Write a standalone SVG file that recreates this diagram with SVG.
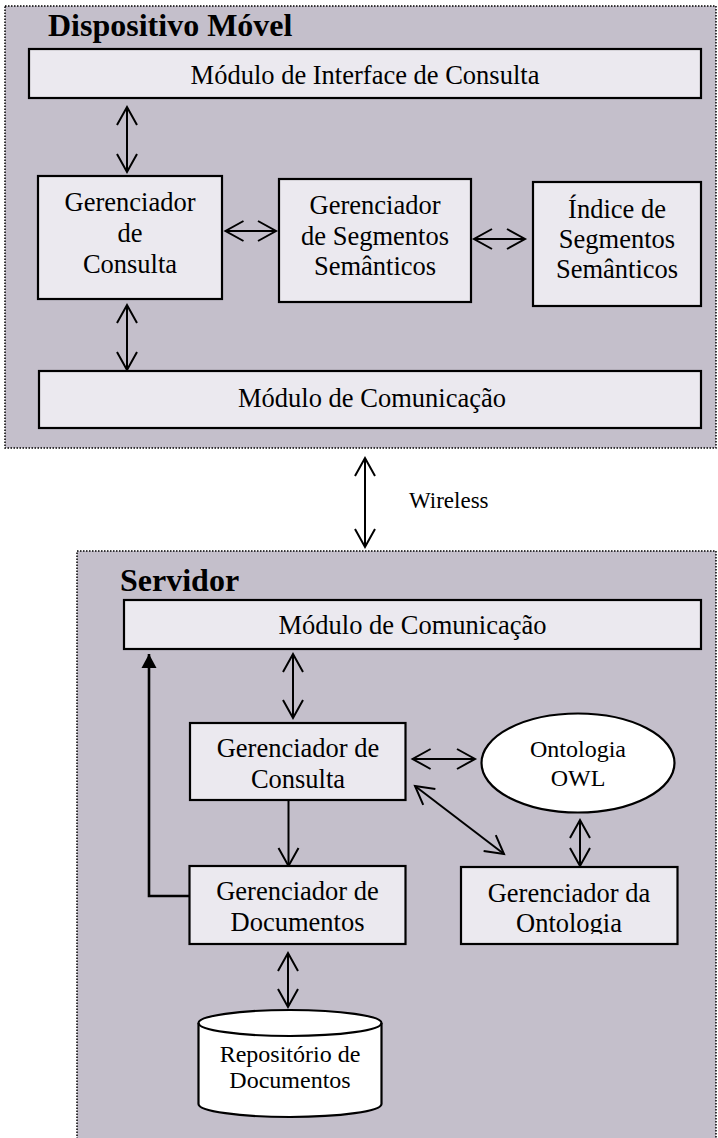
<svg xmlns="http://www.w3.org/2000/svg" width="718" height="1138" viewBox="0 0 718 1138">
<style>
.cont{fill:#c4bfcb;stroke:#000;stroke-width:1.5;stroke-dasharray:1.5 1.5}
.box{fill:#ebe9ef;stroke:#000;stroke-width:2.2}
.white{fill:#fff;stroke:#000;stroke-width:2.2}
.t{font-family:"Liberation Serif","Times New Roman",serif;font-size:26.5px;fill:#000;text-anchor:middle}
.s{font-size:24px}
.title{font-family:"Liberation Serif","Times New Roman",serif;font-size:32px;font-weight:bold;fill:#000}
.c{fill:none;stroke:#000;stroke-width:2}
.open{marker-start:url(#oa);marker-end:url(#oa)}
</style>
<defs>
<marker id="oa" markerUnits="userSpaceOnUse" markerWidth="24" markerHeight="24" refX="18" refY="10" orient="auto-start-reverse" overflow="visible">
<path d="M0,0 L18,10 L0,20" fill="none" stroke="#000" stroke-width="2"/>
</marker>
<marker id="fa" markerUnits="userSpaceOnUse" markerWidth="20" markerHeight="20" refX="14" refY="7.5" orient="auto" overflow="visible">
<path d="M0,0 L14,7.5 L0,15 Z" fill="#000"/>
</marker>
<clipPath id="clipGO"><rect x="455" y="860" width="230" height="74"/></clipPath>
</defs>

<g id="dispositivo-movel">
<rect class="cont" x="5" y="6" width="711" height="442"/>
<text class="title" x="48" y="36">Dispositivo Móvel</text>
</g>
<g id="servidor">
<rect class="cont" x="77" y="551" width="639" height="600"/>
<text class="title" x="120" y="591">Servidor</text>
</g>

<g id="connectors">
<line class="c open" x1="127" y1="107" x2="127" y2="172"/>
<line class="c open" x1="127" y1="305" x2="127" y2="370"/>
<line class="c open" x1="225.5" y1="231" x2="276" y2="231"/>
<line class="c open" x1="474" y1="239" x2="525" y2="239"/>
<line class="c open" x1="365" y1="458" x2="365" y2="547"/>
<line class="c open" x1="293" y1="654" x2="293" y2="718"/>
<line class="c" x1="288.5" y1="800" x2="288.5" y2="866" marker-end="url(#oa)"/>
<polyline fill="none" stroke="#000" stroke-width="2.6" points="190,896 149,896 149,654" marker-end="url(#fa)"/>
<line class="c open" x1="412.6" y1="759" x2="475" y2="759"/>
<line class="c open" x1="415" y1="786" x2="504" y2="854"/>
<line class="c open" x1="580" y1="820" x2="580" y2="866"/>
<line class="c open" x1="288" y1="953" x2="288" y2="1007"/>
<text x="409" y="508" style="font-family:'Liberation Serif','Times New Roman',serif;font-size:23px;fill:#000">Wireless</text>
</g>

<g id="modulo-interface">
<rect class="box" x="29" y="49" width="672" height="49"/>
<text class="t" x="365" y="84">Módulo de Interface de Consulta</text>
</g>
<g id="gerenciador-consulta-movel">
<rect class="box" x="38" y="176" width="184" height="123"/>
<text class="t" x="130" y="211">Gerenciador</text>
<text class="t" x="130" y="242">de</text>
<text class="t" x="130" y="273">Consulta</text>
</g>
<g id="gerenciador-segmentos">
<rect class="box" x="279" y="179" width="192" height="123"/>
<text class="t" x="375" y="214">Gerenciador</text>
<text class="t" x="375" y="245">de Segmentos</text>
<text class="t" x="375" y="275">Semânticos</text>
</g>
<g id="indice-segmentos">
<rect class="box" x="533" y="182" width="168" height="124"/>
<text class="t" x="617" y="218">Índice de</text>
<text class="t" x="617" y="248">Segmentos</text>
<text class="t" x="617" y="278">Semânticos</text>
</g>
<g id="modulo-comunicacao-movel">
<rect class="box" x="39" y="371" width="662" height="57"/>
<text class="t" x="372" y="407">Módulo de Comunicação</text>
</g>

<g id="modulo-comunicacao-servidor">
<rect class="box" x="124" y="600" width="577" height="49"/>
<text class="t" x="412.5" y="634">Módulo de Comunicação</text>
</g>
<g id="gerenciador-consulta-servidor">
<rect class="box" x="190" y="723" width="215.5" height="77"/>
<text class="t" x="298" y="757">Gerenciador de</text>
<text class="t" x="298" y="788">Consulta</text>
</g>
<g id="ontologia-owl">
<ellipse class="white" cx="578" cy="763" rx="96.5" ry="49.5"/>
<text class="t s" x="578" y="757">Ontologia</text>
<text class="t s" x="578" y="786">OWL</text>
</g>
<g id="gerenciador-documentos">
<rect class="box" x="189.5" y="866" width="216" height="78"/>
<text class="t" x="297.5" y="900">Gerenciador de</text>
<text class="t" x="297.5" y="931">Documentos</text>
</g>
<g id="gerenciador-ontologia">
<rect class="box" x="461" y="867" width="216.5" height="77"/>
<g clip-path="url(#clipGO)">
<text class="t" x="569" y="902">Gerenciador da</text>
<text class="t" x="569" y="932">Ontologia</text>
</g>
</g>
<g id="repositorio-documentos">
<path class="white" d="M198.5,1023 L198.5,1104 A91.5,13 0 0 0 381.5,1104 L381.5,1023 A91.5,13 0 0 0 198.5,1023 Z"/>
<path fill="none" stroke="#000" stroke-width="2.2" d="M198.5,1023 A91.5,13 0 0 0 381.5,1023"/>
<text class="t s" x="290" y="1062">Repositório de</text>
<text class="t s" x="290" y="1088">Documentos</text>
</g>
</svg>
